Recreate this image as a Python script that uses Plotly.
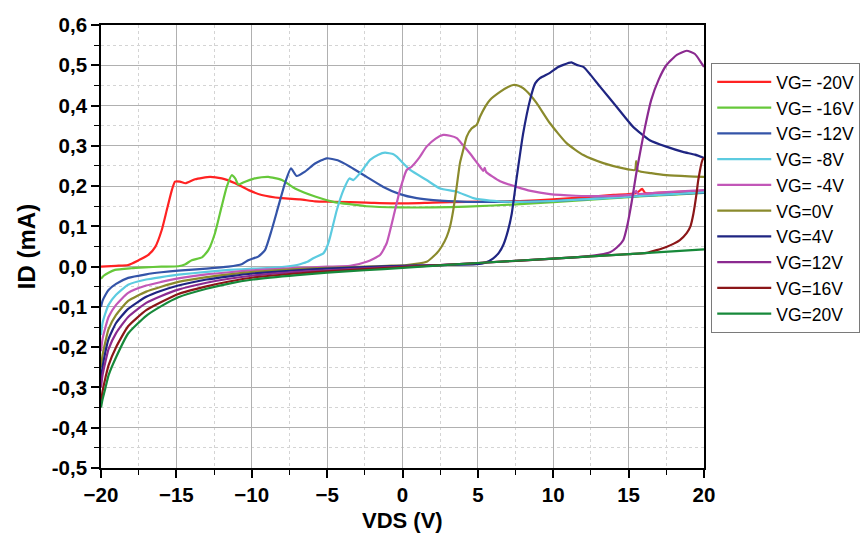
import plotly.graph_objects as go

# Output characteristics ID(VDS) for several gate voltages
names = ["VG= -20V", "VG= -16V", "VG= -12V", "VG= -8V", "VG= -4V",
         "VG=0V", "VG=4V", "VG=12V", "VG=16V", "VG=20V"]
colors = ["#ff2222", "#66c83a", "#3454a8", "#5ccbe0", "#c257b8",
          "#8a8a2c", "#1f2582", "#8b2a90", "#8b1618", "#17893a"]

vds_m20 = [-20, -19, -18.2, -17.5, -16.86, -16.4, -15.97, -15.64, -15.3, -15.09, -14.76,
           -14.4, -13.76, -12.77, -11.99, -11.1, -10.2, -9.34, -8.0, -6.8, -5.8, -4.59,
           -2.4, -0.17, 2.0, 4.26, 7.8, 10, 12, 14, 15.5, 15.9, 16.1, 18, 20]
id_m20 = [0.0, 0.002, 0.004, 0.016, 0.029, 0.049, 0.091, 0.14, 0.19, 0.211, 0.211,
          0.207, 0.217, 0.223, 0.219, 0.207, 0.19, 0.178, 0.17, 0.167, 0.162, 0.161,
          0.159, 0.157, 0.159, 0.161, 0.163, 0.167, 0.172, 0.178, 0.182, 0.193, 0.183, 0.185, 0.188]

vds_m16 = [-20, -19.8, -19.5, -19.07, -18, -17.1, -16, -14.87, -14.4, -13.98, -13.3, -12.88,
           -12.44, -12.0, -11.66, -11.33, -11.1, -10.88, -10.44, -9.9, -9.34, -8.9, -8.0,
           -7.13, -5.8, -4.59, -2.4, -0.17, 2, 4.26, 7.8, 10, 12, 14, 16, 18, 20]
id_m16 = [-0.03, -0.022, -0.015, -0.008, -0.004, -0.002, 0.0, 0.001, 0.006, 0.016, 0.023, 0.041,
          0.083, 0.149, 0.198, 0.227, 0.219, 0.204, 0.211, 0.218, 0.222, 0.223, 0.215,
          0.194, 0.174, 0.161, 0.15, 0.147, 0.147, 0.149, 0.155, 0.16, 0.165, 0.17, 0.175, 0.179, 0.183]

vds_m12 = [-20, -19.9, -19.7, -19.5, -19, -18.2, -17, -16, -14.87, -13, -11.55, -10.67,
           -10.23, -9.57, -9.12, -8.68, -8.24, -7.8, -7.4, -7.02, -6.47, -5.8, -5.03, -4.3,
           -3.48, -2.38, -1.27, -0.17, 0.94, 2.04, 4.26, 7.8, 10, 12, 14, 16, 18, 20]
id_m12 = [-0.1, -0.085, -0.07, -0.058, -0.043, -0.028, -0.019, -0.014, -0.01, -0.005, 0.0, 0.006,
          0.016, 0.025, 0.041, 0.091, 0.149, 0.207, 0.244, 0.225, 0.236, 0.256, 0.269, 0.264,
          0.248, 0.223, 0.198, 0.18, 0.17, 0.165, 0.161, 0.161, 0.163, 0.167, 0.172, 0.176, 0.18, 0.184]

vds_m8 = [-20, -19.9, -19.7, -19.5, -19, -18.2, -17, -16, -14.87, -13, -11.5, -9.9, -8,
          -7, -6.8, -6.3, -5.92, -5.25, -5.0, -4.8, -4.36, -3.92, -3.52, -3.26, -2.82,
          -2.15, -1.6, -1.16, -0.6, -0.38, 0.51, 1.6, 2.49, 3.6, 4.7, 5.8, 7.8, 10, 12,
          14, 16, 18, 20]
id_m8 = [-0.17, -0.14, -0.115, -0.095, -0.07, -0.045, -0.032, -0.026, -0.02, -0.013, -0.008, -0.005, -0.001,
         0.004, 0.006, 0.012, 0.021, 0.033, 0.05, 0.074, 0.14, 0.19, 0.219, 0.215, 0.232,
         0.265, 0.278, 0.283, 0.279, 0.273, 0.24, 0.215, 0.194, 0.186, 0.17, 0.164, 0.161, 0.163, 0.167,
         0.171, 0.176, 0.18, 0.185]

vds_m4 = [-20, -19.9, -19.7, -19.5, -19, -18.2, -17, -16, -14.87, -13, -11.5, -9.9, -7, -5,
          -3.48, -2.38, -1.49, -1.05, -0.6, -0.17, 0.28, 0.6, 1.1, 1.6, 2.2, 2.7, 3.15, 3.6,
          4.0, 4.48, 5.0, 5.36, 5.45, 5.55, 6.47, 7.57, 8.5, 9.78, 11.5, 13.1, 15.3, 15.5,
          15.6, 17.5, 20]
id_m4 = [-0.21, -0.18, -0.15, -0.125, -0.095, -0.065, -0.047, -0.038, -0.029, -0.019, -0.014, -0.009, -0.003, 0.0,
         0.002, 0.012, 0.029, 0.058, 0.124, 0.19, 0.24, 0.248, 0.27, 0.298, 0.318, 0.327, 0.325, 0.319,
         0.302, 0.281, 0.255, 0.238, 0.245, 0.235, 0.212, 0.198, 0.188, 0.18, 0.176, 0.175, 0.18, 0.188,
         0.181, 0.185, 0.19]

vds_0 = [-20, -19.9, -19.7, -19.5, -19, -18.2, -17, -16, -14.87, -13, -11.5, -9.9, -7, -5,
         -2.5, -1, 0.28, 1.6, 2.27, 2.6, 2.93, 3.15, 3.37, 3.6, 3.81, 4.03, 4.26, 4.58, 4.92,
         5.14, 5.5, 5.8, 6.47, 7.0, 7.35, 7.7, 8.0, 8.5, 8.9, 9.78, 10.9, 12.0, 13.32, 14.65,
         15.42, 15.5, 15.62, 16.5, 17.5, 19.0, 20]
id_0 = [-0.25, -0.22, -0.185, -0.155, -0.12, -0.085, -0.062, -0.05, -0.038, -0.026, -0.019, -0.013, -0.006, -0.003,
        0.0, 0.002, 0.004, 0.012, 0.033, 0.05, 0.074, 0.099, 0.141, 0.2, 0.257, 0.29, 0.323, 0.343, 0.352,
        0.372, 0.398, 0.414, 0.434, 0.446, 0.451, 0.449, 0.443, 0.425, 0.406, 0.356, 0.306, 0.277, 0.257, 0.244,
        0.24, 0.262, 0.238, 0.232, 0.227, 0.224, 0.223]

vds_4 = [-20, -19.9, -19.7, -19.5, -19, -18.2, -17, -16, -14.87, -13, -11.5, -9.9, -7, -5,
         -2.5, 0, 2.5, 4.9, 5.5, 6.0, 6.4, 6.7, 7.0, 7.24, 7.57, 8.0, 8.46, 8.8, 9.12, 9.78,
         10.3, 10.67, 11.2, 11.55, 12.0, 12.5, 13.1, 14.2, 15.3, 16.4, 17.5, 18.6, 19.4, 20]
id_4 = [-0.28, -0.25, -0.21, -0.18, -0.14, -0.105, -0.075, -0.06, -0.047, -0.032, -0.024, -0.017, -0.009, -0.005,
        -0.001, 0.002, 0.004, 0.006, 0.01, 0.02, 0.035, 0.055, 0.09, 0.13, 0.22, 0.33, 0.414, 0.455, 0.468, 0.481,
        0.495, 0.501, 0.507, 0.501, 0.496, 0.475, 0.447, 0.397, 0.347, 0.314, 0.298, 0.285, 0.278, 0.27]

vds_12 = [-20, -19.9, -19.7, -19.5, -19, -18.2, -17, -16, -14.87, -13, -11.5, -9.9, -7, -5,
          -2.5, 0, 2.5, 5, 10, 12, 13.1, 13.77, 14.2, 14.65, 14.9, 15.2, 15.5, 15.75, 16.09,
          16.5, 17.0, 17.5, 18.2, 18.85, 19.4, 19.84, 20]
id_12 = [-0.3, -0.27, -0.235, -0.205, -0.165, -0.125, -0.09, -0.073, -0.057, -0.04, -0.03, -0.022, -0.013, -0.009,
         -0.004, 0.0, 0.004, 0.009, 0.02, 0.025, 0.03, 0.036, 0.047, 0.066, 0.1, 0.16, 0.23, 0.281, 0.347,
         0.414, 0.465, 0.5, 0.526, 0.536, 0.528, 0.505, 0.496]

vds_16 = [-20, -19.9, -19.7, -19.5, -19, -18.2, -17, -16, -14.87, -13, -11.5, -9.9, -7, -5,
          -2.5, 0, 2.5, 5, 10, 15, 16.2, 17.5, 18.4, 18.85, 19.1, 19.3, 19.5, 19.62, 19.9, 20]
id_16 = [-0.34, -0.31, -0.275, -0.245, -0.2, -0.148, -0.108, -0.088, -0.068, -0.049, -0.037, -0.027, -0.017, -0.012,
         -0.006, -0.001, 0.004, 0.009, 0.02, 0.031, 0.034, 0.049, 0.066, 0.083, 0.1, 0.132, 0.18, 0.215, 0.265, 0.27]

vds_20 = [-20, -19.9, -19.7, -19.5, -19, -18.2, -17, -16, -14.87, -13, -11.5, -9.9, -7, -5,
          -2.5, 0, 2.5, 5, 10, 15, 20]
id_20 = [-0.35, -0.33, -0.3, -0.27, -0.225, -0.166, -0.122, -0.098, -0.076, -0.055, -0.042, -0.032, -0.021, -0.015,
         -0.009, -0.003, 0.003, 0.009, 0.02, 0.031, 0.043]

curves = [(vds_m20, id_m20), (vds_m16, id_m16), (vds_m12, id_m12), (vds_m8, id_m8),
          (vds_m4, id_m4), (vds_0, id_0), (vds_4, id_4), (vds_12, id_12),
          (vds_16, id_16), (vds_20, id_20)]

x_ticks = [-20, -15, -10, -5, 0, 5, 10, 15, 20]
y_ticks = [-0.5, -0.4, -0.3, -0.2, -0.1, 0.0, 0.1, 0.2, 0.3, 0.4, 0.5, 0.6]
y_tick_text = ["-0,5", "-0,4", "-0,3", "-0,2", "-0,1", "0,0",
               "0,1", "0,2", "0,3", "0,4", "0,5", "0,6"]
x_title = "VDS (V)"
y_title = "ID (mA)"

fig = go.Figure()
for name, color, (xs, ys) in zip(names, colors, curves):
    fig.add_trace(go.Scatter(x=xs, y=ys, mode="lines", name=name,
                             line=dict(color=color, width=2.2, shape="spline", smoothing=0.5)))

FONT = "Liberation Sans, Arial, sans-serif"
axis_common = dict(
    showline=True, linecolor="black", linewidth=1.6, mirror=True,
    ticks="outside", ticklen=8, tickwidth=1.6, tickcolor="black",
    showgrid=True, gridcolor="#b0b0b0", gridwidth=1.3,
    zeroline=False,
    tickfont=dict(family=FONT, size=20.5, color="black", weight="bold"),
)

fig.update_xaxes(range=[-20, 20], tickvals=x_ticks,
                 minor=dict(dtick=2.5, ticks="outside", ticklen=5, tickwidth=1.3,
                            tickcolor="black", showgrid=True, gridcolor="#d4d4d4",
                            griddash="dot", gridwidth=1),
                 **axis_common)
fig.update_yaxes(range=[-0.5, 0.6], tickvals=y_ticks, ticktext=y_tick_text,
                 title_text=y_title, title_standoff=9,
                 title_font=dict(family=FONT, size=24, color="black", weight="bold"),
                 minor=dict(dtick=0.05, tick0=0, ticks="outside", ticklen=5, tickwidth=1.3,
                            tickcolor="black", showgrid=True, gridcolor="#d4d4d4",
                            griddash="dot", gridwidth=1),
                 **axis_common)

# x-axis title placed just below the tick labels
fig.add_annotation(text=x_title, xref="paper", yref="paper", x=0.5, y=-0.1174,
                   xanchor="center", yanchor="middle", showarrow=False,
                   font=dict(family=FONT, size=22, color="black", weight="bold"))

fig.update_layout(
    width=866, height=533,
    margin=dict(l=101, r=162, t=25, b=65, autoexpand=False),
    paper_bgcolor="white", plot_bgcolor="white",
    font=dict(family=FONT, color="black"),
    showlegend=True,
    legend=dict(x=1.012, y=0.914, xanchor="left", yanchor="top",
                bgcolor="white", bordercolor="#7a7a7a", borderwidth=1,
                font=dict(family=FONT, size=17.5, color="black"),
                itemwidth=54, tracegroupgap=0),
)

fig.write_html("out.html")
